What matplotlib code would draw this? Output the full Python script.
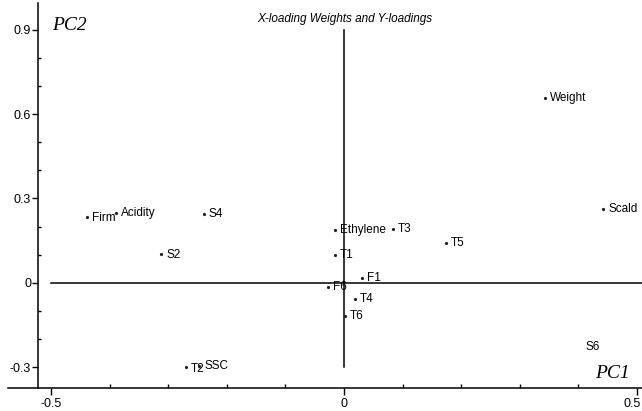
import matplotlib
matplotlib.use("Agg")
import matplotlib.pyplot as plt
from matplotlib.ticker import MultipleLocator
import matplotlib.transforms as mtransforms

labels = ["Weight", "Scald", "Firm", "Acidity", "S4", "S2", "Ethylene", "T1",
          "T3", "T5", "F1", "F6", "T4", "T6", "T2", "SSC"]
pc1 = [0.343, 0.442, -0.439, -0.389, -0.239, -0.312, -0.015, -0.015,
       0.084, 0.174, 0.031, -0.027, 0.019, 0.002, -0.270, -0.247]
pc2 = [0.657, 0.262, 0.233, 0.247, 0.244, 0.103, 0.187, 0.098,
       0.190, 0.141, 0.016, -0.016, -0.059, -0.119, -0.301, -0.297]
label_dy = [0, 0, -1, 0, 0, -1, 0, 0, 0, 0, 0, 0, 0, 0, -2, 0]

extra_label = "S6"
extra_pos = (0.425, -0.2295)

title = "X-loading Weights and Y-loadings"
xticks = [-0.5, 0, 0.5]
xtick_labels = ["-0.5", "0", "0.5"]
yticks = [-0.3, 0, 0.3, 0.6, 0.9]
ytick_labels = ["-0.3", "0", "0.3", "0.6", "0.9"]

plt.rcParams['font.family'] = ['Liberation Sans', 'DejaVu Sans']

fig = plt.figure(figsize=(6.42, 4.11), dpi=100)
ax = fig.add_axes([38/642, 23/411, 1 - 38/642, (388 - 3)/411])
ax.set_xlim(-0.522, 0.5085)
ax.set_ylim(-0.374, 0.995)

for s in ["top", "right"]:
    ax.spines[s].set_visible(False)
for s in ["left", "bottom"]:
    ax.spines[s].set_linewidth(1.1)
    ax.spines[s].set_color("black")
ax.spines["bottom"].set_bounds(-0.573, 0.5085)

# cross lines
ax.plot([0, 0], [-0.3, 0.9], color="black", lw=1.1)
ax.plot([-0.5, 0.52], [0, 0], color="black", lw=1.1, clip_on=False)

ax.plot(pc1, pc2, ls="none", marker="o", ms=1.3, color="#222222")
for lab, x, y, dy in zip(labels, pc1, pc2, label_dy):
    ax.annotate(lab, (x, y), xytext=(5, dy), textcoords="offset pixels",
                ha="left", va="center", fontsize=8.5)
ax.text(extra_pos[0], extra_pos[1], extra_label, ha="center", va="center", fontsize=8.5)

ax.set_xticks(xticks)
ax.set_xticklabels(xtick_labels)
ax.set_yticks(yticks)
ax.set_yticklabels(ytick_labels)
ax.xaxis.set_minor_locator(MultipleLocator(0.1))
ax.yaxis.set_minor_locator(MultipleLocator(0.1))
ax.tick_params(axis="x", which="major", direction="out", length=5, width=1, pad=2, labelsize=9)
ax.tick_params(axis="x", which="minor", direction="in", length=3, width=1)
ax.tick_params(axis="y", which="major", direction="out", length=4, width=1, pad=1, labelsize=9)
ax.tick_params(axis="y", which="minor", direction="in", length=2.5, width=1)

# nudge the last x tick label inside the figure
last = ax.get_xticklabels()[-1]
last.set_transform(last.get_transform() + mtransforms.ScaledTranslation(-5/100, 0, fig.dpi_scale_trans))

fig.text(345/642, 1 - 19/411, title, ha="center", va="center", fontsize=8.5, style="italic")
fig.text(52/642, 1 - 25/411, "PC2", ha="left", va="center", fontsize=14,
         style="italic", family=["Liberation Serif", "DejaVu Serif"])
fig.text(595/642, 1 - 373/411, "PC1", ha="left", va="center", fontsize=14,
         style="italic", family=["Liberation Serif", "DejaVu Serif"])

fig.savefig("out.png", dpi=100, facecolor="white")
